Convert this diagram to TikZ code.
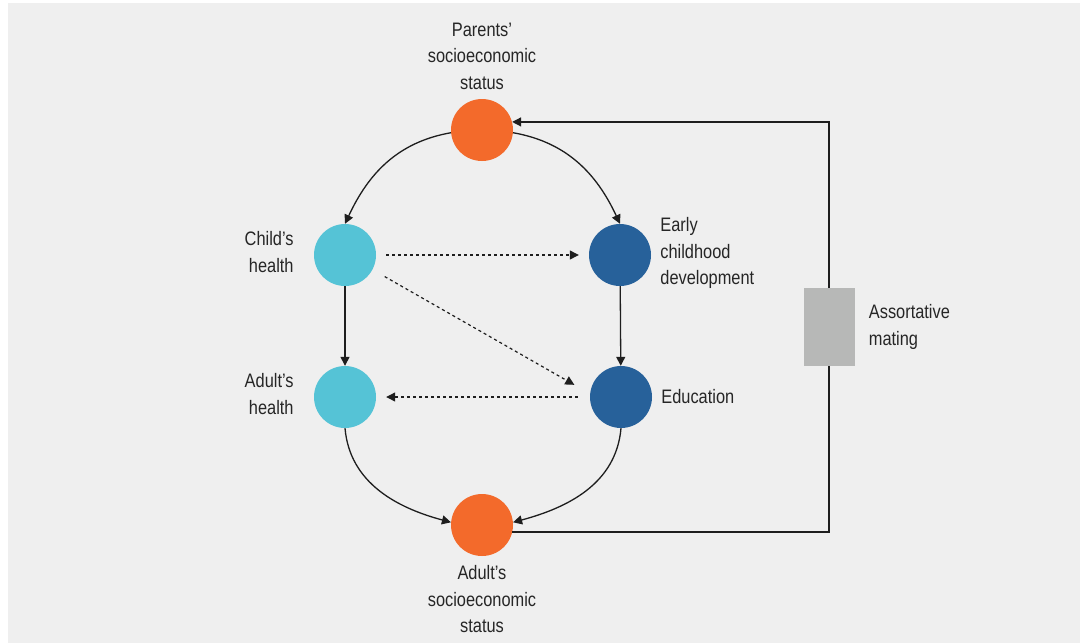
\documentclass[tikz,border=0pt]{standalone}
\usepackage{fontspec}
\setmainfont{Liberation Sans}[FakeStretch=0.84]
\usetikzlibrary{positioning,arrows.meta}

\definecolor{bgcol}{HTML}{EFEFEF}
\definecolor{sesorange}{HTML}{F36A2B}
\definecolor{healthblue}{HTML}{55C3D6}
\definecolor{edublue}{HTML}{27619A}
\definecolor{matinggray}{HTML}{B7B8B7}
\definecolor{txtcol}{HTML}{262626}
\definecolor{linecol}{HTML}{1E1E1E}

\begin{document}
\begin{tikzpicture}[
  x=1pt,
  y=-1pt,
  font=\fontsize{19.5pt}{26.5pt}\selectfont,
  circ/.style={circle, minimum size=62pt, inner sep=0pt},
  lbl/.style={inner sep=0pt, text=txtcol},
  conn/.style={draw=linecol, line width=1.3pt, -{Triangle[length=9pt,width=9pt]}},
  dotconn/.style={conn, line width=1.2pt, dash pattern=on 3pt off 3pt,
    shorten <=10pt, shorten >=10pt}
]

  % background
  \useasboundingbox (0,0) rectangle (1084,643);
  \fill[bgcol] (8,3) rectangle (1080,643);

  % circles
  \node[circ, fill=sesorange]  (pses) at (482,130) {};
  \node[circ, fill=healthblue] (chh)  at (345,255) {};
  \node[circ, fill=edublue]    (ecd)  at (620,255) {};
  \node[circ, fill=healthblue] (ahh)  at (345,397) {};
  \node[circ, fill=edublue]    (edu)  at (621,397) {};
  \node[circ, fill=sesorange]  (ases) at (482,525) {};

  % labels
  \node[lbl, align=center, above=9pt of pses] {Parents’\\socioeconomic\\status};
  \node[lbl, align=right, left=20pt of chh, yshift=3pt] {Child’s\\health};
  \node[lbl, align=left, right=9pt of ecd, yshift=2pt] {Early\\childhood\\development};
  \node[lbl, align=right, left=20pt of ahh, yshift=3pt] {Adult’s\\health};
  \node[lbl, align=left, right=9pt of edu] {Education};
  \node[lbl, align=center, below=9pt of ases] {Adult’s\\socioeconomic\\status};

  % solid links
  \draw[conn] (pses.185) to[out=190,in=65] (chh.north);
  \draw[conn] (pses.-5) to[out=-10,in=115] (ecd.north);
  \draw[conn] (chh) -- (ahh);
  \draw[conn] (ecd) -- (edu);
  \draw[conn] (ahh.south) to[out=-85,in=165] (ases.175);
  \draw[conn] (edu.south) to[out=-95,in=15] (ases.5);

  % dotted links
  \draw[dotconn] (chh) -- (ecd);
  \draw[dotconn, shorten <=14pt, shorten >=18pt] (chh.-28) -- (edu.174);
  \draw[dotconn, shorten <=12pt] (edu) -- (ahh);

  % assortative mating loop
  \coordinate (matingc) at (829,327);
  \draw[conn] (ases.-13) -| (matingc) |- (pses.15);
  \node[fill=matinggray, minimum width=51pt, minimum height=78pt, inner sep=0pt]
    (mating) at (matingc) {};
  \node[lbl, align=left, right=14pt of mating] {Assortative\\mating};

\end{tikzpicture}
\end{document}
